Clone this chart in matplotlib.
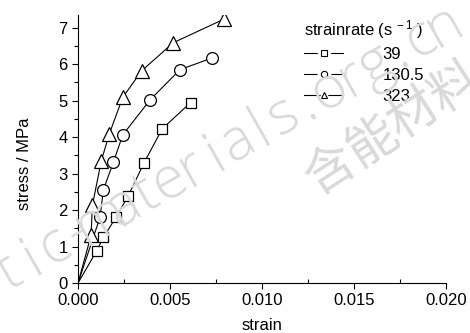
import matplotlib.pyplot as plt
import numpy as np
from matplotlib.ticker import MultipleLocator
from matplotlib.lines import Line2D

plt.rcParams['font.family'] = ['Liberation Sans', 'Noto Sans CJK SC', 'DejaVu Sans']
plt.rcParams['mathtext.default'] = 'regular'

# strain / stress (MPa) for each strain rate (s^-1)
rates = ['39', '130.5', '323']
strain_39 = [0, 0.00101, 0.00138, 0.00207, 0.00274, 0.00359, 0.00458, 0.00612]
stress_39 = [0, 0.88, 1.25, 1.81, 2.40, 3.30, 4.23, 4.95]
strain_130 = [0, 0.00120, 0.00138, 0.00192, 0.00243, 0.00391, 0.00554, 0.00727]
stress_130 = [0, 1.81, 2.56, 3.31, 4.06, 5.02, 5.85, 6.17]
strain_323 = [0, 0.00071, 0.00078, 0.00127, 0.00170, 0.00243, 0.00346, 0.00518, 0.00795]
stress_323 = [0, 1.31, 2.13, 3.36, 4.09, 5.09, 5.82, 6.59, 7.24]

W, H = 470, 333
fig = plt.figure(figsize=(4.7, 3.33), dpi=100)
ax = fig.add_axes([0.166, 0.150, 0.783, 0.805])

# faint watermark, letter-spaced along a diagonal (pixel positions)
def watermark(txt, x0, y0, angle, pitch, size, family):
    a = np.radians(angle)
    for i, ch in enumerate(txt):
        x = x0 + i * pitch * np.cos(a)
        y = y0 - i * pitch * np.sin(a)
        fig.text(x / W, 1 - y / H, ch, rotation=angle, fontsize=size,
                 color='#d9d9d9', ha='center', va='center',
                 rotation_mode='anchor', family=family, weight='light',
                 zorder=0)

watermark('tic-materials.org.cn', 9, 272, 29.5, 26.3, 42,
          ['Open Sans', 'Liberation Sans'])
watermark('含能材料', 330, 170, 33, 50, 36, ['Noto Sans CJK SC'])

series = [(strain_39, stress_39, 's', 7.5),
          (strain_130, stress_130, 'o', 8.5),
          (strain_323, stress_323, '^', 9.5)]
handles = []
for (x, y, m, ms), lab in zip(series, rates):
    ax.plot(x, y, color='black', lw=0.8, zorder=2)
    ax.plot(x[1:], y[1:], ls='none', marker=m, ms=ms, mfc='white',
            mec='black', mew=0.9, zorder=3)
    ln = Line2D([], [], color='black', lw=0.8)
    halo = Line2D([], [], ls='none', marker=m, ms=9, mfc='white', mec='white')
    mk = Line2D([], [], ls='none', marker=m, ms=4.5, mfc='white',
                mec='black', mew=0.8)
    handles.append((ln, halo, mk))

ax.set_xlim(0, 0.020)
ax.set_ylim(0, 7.35)
ax.xaxis.set_major_locator(MultipleLocator(0.005))
ax.xaxis.set_minor_locator(MultipleLocator(0.0025))
ax.yaxis.set_major_locator(MultipleLocator(1))
ax.yaxis.set_minor_locator(MultipleLocator(0.5))
ax.xaxis.set_major_formatter(plt.FuncFormatter(lambda v, p: f'{v:.3f}'))
ax.tick_params(labelsize=12, width=0.8, length=4)
ax.tick_params(axis='x', which='minor', direction='in', length=3, width=0.8)
ax.tick_params(axis='y', which='minor', length=3, width=0.8)
for s in ['top', 'right']:
    ax.spines[s].set_visible(False)
for s in ['left', 'bottom']:
    ax.spines[s].set_linewidth(0.8)
ax.patch.set_alpha(0)

ax.set_xlabel('strain', fontsize=12, labelpad=7)
ax.set_ylabel('stress / MPa', fontsize=12)
ax.yaxis.set_label_coords(-0.125, 0.444)

leg = ax.legend(handles, rates, title='strainrate (s$^{\\,-1}$ )',
                loc='upper left', bbox_to_anchor=(0.623, 0.98),
                bbox_transform=fig.transFigure, frameon=False,
                fontsize=12, title_fontsize=12, handlelength=2.3,
                handletextpad=2.4, labelspacing=0.35, alignment='left',
                borderpad=0.2)

fig.savefig('out.png', dpi=100)
